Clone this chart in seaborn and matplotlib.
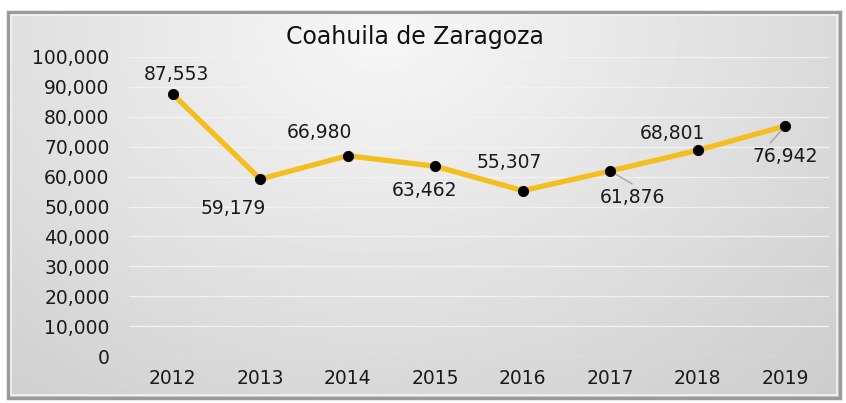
import numpy as np
import pandas as pd
import matplotlib
matplotlib.use("Agg")
import matplotlib.pyplot as plt
import seaborn as sns

title = "Coahuila de Zaragoza"
years = [2012, 2013, 2014, 2015, 2016, 2017, 2018, 2019]
values = [87553, 59179, 66980, 63462, 55307, 61876, 68801, 76942]
yticks = [0, 10000, 20000, 30000, 40000, 50000, 60000, 70000, 80000, 90000, 100000]

# label offsets in pixels (dx, dy) relative to the point
offsets = [(4, 20), (-27, -29), (-28, 23), (-11, -24), (-13, 28), (22, -27), (-25, 17), (0, -31)]
# leader line end offsets in pixels (None = no leader)
leaders = [None, None, None, None, None, (22, -13), None, (-15, -17)]

df = pd.DataFrame({"year": years, "value": values})

sns.set_theme(style="white")
plt.rcParams["font.family"] = ["DejaVu Sans"]

fig = plt.figure(figsize=(8.46, 4.03), dpi=100)
fig.patch.set_facecolor("white")

# background gradient panel
bg = fig.add_axes([0, 0, 1, 1], zorder=0)
bg.set_xlim(0, 846)
bg.set_ylim(403, 0)
bg.axis("off")
yy, xx = np.mgrid[0:1:200j, 0:1:400j]
dist = np.sqrt(((xx - 0.45) / 0.8) ** 2 + ((yy - 0.05) / 1.3) ** 2)
grad = np.clip(0.97 - 0.17 * dist, 0.77, 0.97)
bg.imshow(grad, cmap="gray", vmin=0, vmax=1, extent=[8, 840, 398, 12], aspect="auto", zorder=1)
frame = plt.Rectangle((8, 12), 832, 386, fill=False, edgecolor="#9a9a9a", linewidth=2.5, zorder=2)
bg.add_patch(frame)
inner = plt.Rectangle((11, 15), 826, 380, fill=False, edgecolor="#f4f4f4", linewidth=1.2, zorder=2)
bg.add_patch(inner)

ax = fig.add_axes([129 / 846, 1 - 356 / 403, 700 / 846, 299 / 403], zorder=2)
ax.set_facecolor("none")

sns.lineplot(data=df, x="year", y="value", ax=ax, color="#F2BF1F", linewidth=3.8, zorder=3)
sns.scatterplot(data=df, x="year", y="value", ax=ax, color="black", s=55, zorder=4, edgecolor="black")

ax.set_xlim(years[0] - 0.5, years[-1] + 0.5)
ax.set_ylim(0, 100000)
ax.set_yticks(yticks)
ax.set_yticklabels([f"{v:,}" for v in yticks])
ax.set_xticks(years)
ax.set_xticklabels([str(y) for y in years])
ax.tick_params(axis="both", length=0, labelsize=13.5, colors="#1a1a1a")
ax.tick_params(axis="y", pad=14)
ax.tick_params(axis="x", pad=9)
ax.set_xlabel("")
ax.set_ylabel("")
for s in ax.spines.values():
    s.set_visible(False)
ax.grid(axis="y", color="#f2f2f2", linewidth=0.9, zorder=0)
ax.set_axisbelow(True)

pt = 72 / 100
for x, v, (dx, dy), lead in zip(years, values, offsets, leaders):
    ax.annotate(f"{v:,}", xy=(x, v), xytext=(dx * pt, dy * pt), textcoords="offset points",
                ha="center", va="center", fontsize=13.5, color="#1a1a1a", zorder=5)
    if lead is not None:
        ax.annotate("", xy=(x, v), xytext=(lead[0] * pt, lead[1] * pt), textcoords="offset points",
                    arrowprops=dict(arrowstyle="-", color="#a0a0a0", lw=0.9,
                                    shrinkA=0, shrinkB=0), zorder=2)

fig.text(415 / 846, 1 - 37 / 403, title, ha="center", va="center", fontsize=17, color="#111111")

fig.savefig("out.png", dpi=100)
